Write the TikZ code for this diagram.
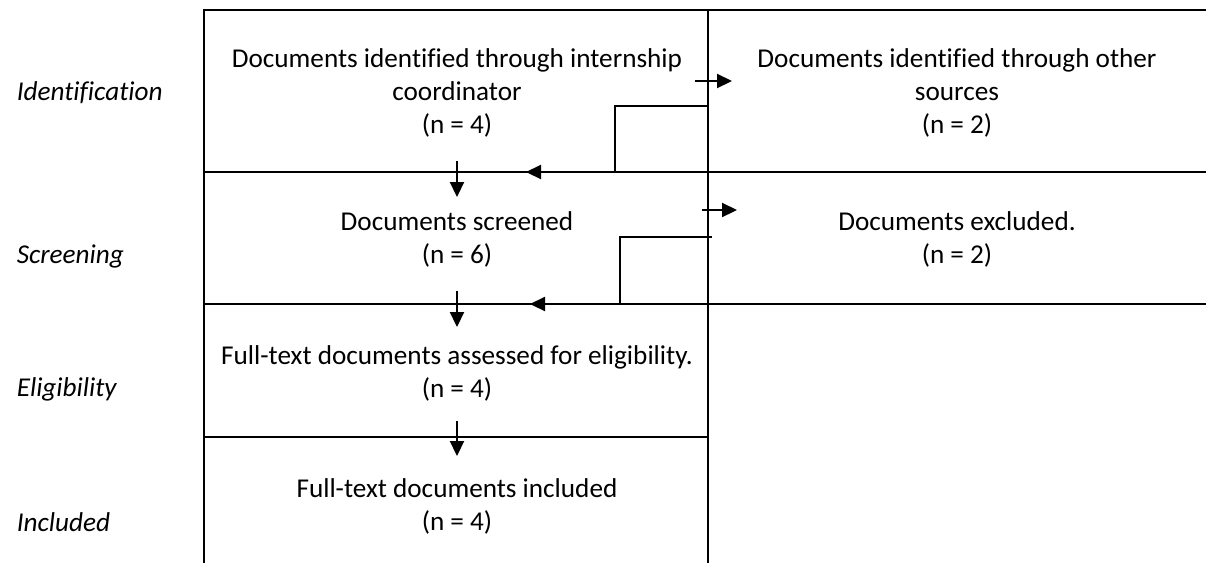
\documentclass[tikz,border=0pt]{standalone}
\usepackage{fontspec}
\setmainfont{Carlito}[Ligatures=NoCommon]
\usetikzlibrary{arrows.meta}

\tikzset{
	boxtext/.style={align=center,font=\fontsize{13.6}{16.5}\selectfont},
	phase/.style={anchor=west,font=\fontsize{13.6}{16.5}\selectfont\itshape},
	flow/.style={-{Triangle[length=7.5pt,width=7pt]}}
}

\begin{document}
\begin{tikzpicture}[x=0.5pt,y=-0.5pt,line width=1.1pt]
	\useasboundingbox (0,0) rectangle (1206,563);
	\draw (204,563) -- (204,10) -- (1206,10);
	\draw (708,10) -- (708,563);
	\draw (204,172) -- (1206,172);
	\draw (204,304) -- (1206,304);
	\draw (204,437) -- (708,437);

	\node[phase] (lbident) at (9,93) {Identification};
	\node[phase] (lbscreen) at (9,256) {Screening};
	\node[phase] (lbelig) at (9,389) {Eligibility};
	\node[phase] (lbincl) at (9,522) {Included};

	\node[boxtext] (idcoord) at (457,93) {Documents identified through internship\\coordinator\\(n = 4)};
	\node[boxtext] (idother) at (957,93) {Documents identified through other\\sources\\(n = 2)};
	\node[boxtext] (screened) at (457,239) {Documents screened\\(n = 6)};
	\node[boxtext] (excluded) at (957,239) {Documents excluded.\\(n = 2)};
	\node[boxtext] (assessed) at (457,373) {Full-text documents assessed for eligibility.\\(n = 4)};
	\node[boxtext] (included) at (457,506) {Full-text documents included\\(n = 4)};

	\coordinate (ra1) at (695,81);
	\coordinate (rb1) at (732,81);
	\coordinate (ea1) at (708,106);
	\coordinate (eb1) at (526,172);
	\coordinate (da1) at (457,161);
	\coordinate (db1) at (457,197);
	\coordinate (ra2) at (702,210);
	\coordinate (rb2) at (737,210);
	\coordinate (ea2) at (712,237);
	\coordinate (eb2) at (530,304);
	\coordinate (da2) at (457,291);
	\coordinate (db2) at (457,327);
	\coordinate (da3) at (457,421);
	\coordinate (db3) at (457,456);

	\draw[flow] (ra1) -- (rb1);
	\draw[flow] (ea1) -- (615,106) -- (615,172) -- (eb1);
	\draw[flow] (da1) -- (db1);
	\draw[flow] (ra2) -- (rb2);
	\draw[flow] (ea2) -- (620,237) -- (620,304) -- (eb2);
	\draw[flow] (da2) -- (db2);
	\draw[flow] (da3) -- (db3);
\end{tikzpicture}
\end{document}
